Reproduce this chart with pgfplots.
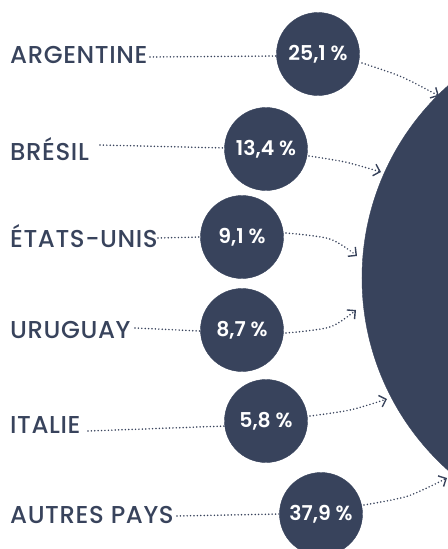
\documentclass[border=0pt]{standalone}
\usepackage{fontspec}
\setmainfont{Poppins}
\newfontfamily\labelfont{Poppins Medium}[LetterSpace=2.5]
\newfontfamily\partfont{Poppins SemiBold}
\usepackage{pgfplots}
\pgfplotsset{compat=1.18}
\usetikzlibrary{arrows.meta}
\definecolor{navy}{HTML}{38435C}

% pays: position du texte, du cercle et depart du pointille
\pgfplotstableread{
x   y    label
10  55   ARGENTINE
10  149  BRÉSIL
10  236  ÉTATS-UNIS
10  330  URUGUAY
10  425  ITALIE
10  515  {AUTRES PAYS}
}\paysdata
\pgfplotstableread{
x    y    part
318  54   25.1
266  149  13.4
242  237  9.1
242  330  8.7
266  421  5.8
321  514  37.9
}\partdata

\begin{document}
\begin{tikzpicture}
\useasboundingbox (0,0) rectangle (448bp,549bp);
\clip (0,0) rectangle (448bp,549bp);
\begin{axis}[x=1bp,y=1bp,y dir=reverse,xmin=0,xmax=448,ymin=0,ymax=549,
  hide axis,clip=false,
  dots/.style={navy,line width=1.7bp,line cap=round,dash pattern=on 0pt off 3.4bp}]
% grand cercle
\addplot[only marks,mark=*,mark size=258bp,navy,mark options={fill=navy,draw=navy}] coordinates {(620,278)};
% pointilles texte -> cercle
\addplot[dots] coordinates {(150,57) (277,56)};
\addplot[dots] coordinates {(100,145) (225,148)};
\addplot[dots] coordinates {(158,238) (200,237)};
\addplot[dots] coordinates {(135,328) (200,331)};
\addplot[dots] coordinates {(88,431) (226,426)};
\addplot[dots] coordinates {(177,516) (280,514)};
% fleches cercle -> grand cercle
\addplot[dots,smooth,-{Straight Barb[length=6bp,width=12bp,line width=1.4bp]}] coordinates {(362,63) (402,77) (439,96)};
\addplot[dots,smooth,-{Straight Barb[length=6bp,width=12bp,line width=1.4bp]}] coordinates {(309,156) (345,162) (381,172)};
\addplot[dots,smooth,-{Straight Barb[length=6bp,width=12bp,line width=1.4bp]}] coordinates {(286,233) (330,239) (357,256)};
\addplot[dots,smooth,-{Straight Barb[length=6bp,width=12bp,line width=1.4bp]}] coordinates {(286,333) (330,327) (356,310)};
\addplot[dots,smooth,-{Straight Barb[length=6bp,width=12bp,line width=1.4bp]}] coordinates {(310,416) (350,410) (387,399)};
\addplot[dots,smooth,-{Straight Barb[length=6bp,width=12bp,line width=1.4bp]}] coordinates {(364,505) (408,496) (447,478)};
% cercles des pourcentages
\addplot[only marks,mark=*,mark size=41.5bp,mark options={fill=navy,draw=navy},
  point meta=explicit,
  nodes near coords={\pgfmathprintnumber[use comma,fixed,fixed zerofill,precision=1,assume math mode=true]{\pgfplotspointmeta}\ \%},
  nodes near coords style={anchor=center,text=white,font=\partfont\fontsize{20.5}{20.5}\selectfont}]
  table[x=x,y=y,meta=part] {\partdata};
% noms des pays
\addplot[only marks,mark=none,
  point meta=explicit symbolic,
  nodes near coords,
  nodes near coords style={anchor=west,inner sep=0pt,text=navy,font=\labelfont\fontsize{24.5}{24.5}\selectfont}]
  table[x=x,y=y,meta=label] {\paysdata};
\end{axis}
\end{tikzpicture}
\end{document}
